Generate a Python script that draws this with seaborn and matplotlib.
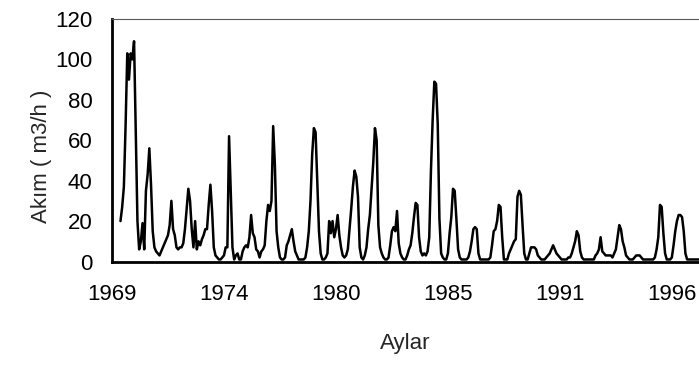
import numpy as np
import pandas as pd
import matplotlib
matplotlib.use("Agg")
import matplotlib.pyplot as plt
import seaborn as sns

# ============================
# Datos: caudal mensual (m3/h), desde junio 1969
# ============================
START_MONTH = 5  # meses desde enero 1969

akim_1969 = [20, 27, 37, 67, 103, 90, 103]
akim_1970 = [100, 109, 64, 20, 6, 10, 19, 6, 35, 43, 56, 38]
akim_1971 = [15, 7, 5, 4, 3, 5, 7, 9, 11, 13, 18, 30]
akim_1972 = [16, 13, 7, 6, 7, 7, 9, 16, 26, 36, 30, 16]
akim_1973 = [7, 20, 6, 10, 8, 11, 13, 16, 16, 28, 38, 25]
akim_1974 = [7, 3, 2, 1, 1, 2, 3, 7, 7, 62, 35, 7]
akim_1975 = [1, 3, 4, 1, 1, 5, 7, 8, 7, 12, 23, 14]
akim_1976 = [12, 6, 5, 2, 5, 6, 8, 20, 28, 25, 30, 67]
akim_1977 = [48, 15, 7, 2, 1, 1, 2, 8, 10, 13, 16, 10]
akim_1978 = [5, 3, 1, 1, 1, 1, 2, 7, 15, 30, 53, 66]
akim_1979 = [64, 40, 15, 4, 1, 1, 2, 4, 20, 14, 20, 12]
akim_1980 = [16, 23, 13, 7, 3, 2, 3, 6, 16, 26, 37, 45]
akim_1981 = [42, 32, 7, 2, 1, 3, 7, 16, 23, 36, 49, 66]
akim_1982 = [60, 18, 7, 4, 2, 1, 1, 2, 8, 15, 17, 15]
akim_1983 = [25, 9, 4, 2, 1, 1, 3, 6, 8, 14, 22, 29]
akim_1984 = [28, 12, 5, 3, 4, 3, 5, 12, 45, 70, 89, 88]
akim_1985 = [68, 21, 4, 2, 1, 1, 4, 14, 22, 36, 35, 21]
akim_1986 = [6, 2, 1, 1, 1, 1, 2, 5, 10, 16, 17, 16]
akim_1987 = [4, 1, 1, 1, 1, 1, 1, 2, 8, 15, 16, 20]
akim_1988 = [28, 27, 12, 1, 1, 1, 4, 6, 8, 10, 11, 32]
akim_1989 = [35, 33, 18, 4, 1, 1, 4, 7, 7, 7, 6, 3]
akim_1990 = [2, 1, 1, 1, 2, 3, 4, 6, 8, 6, 4, 3]
akim_1991 = [2, 1, 1, 1, 1, 2, 2, 4, 7, 10, 15, 13]
akim_1992 = [5, 2, 1, 1, 1, 1, 1, 1, 1, 3, 4, 6]
akim_1993 = [12, 5, 4, 3, 3, 3, 3, 2, 4, 6, 12, 18]
akim_1994 = [16, 10, 7, 3, 2, 1, 1, 1, 2, 3, 3, 3]
akim_1995 = [2, 1, 1, 1, 1, 1, 1, 1, 2, 6, 12, 28]
akim_1996 = [27, 14, 4, 1, 1, 1, 2, 8, 15, 20, 23, 23]
akim_1997 = [22, 15, 4, 1, 1, 1, 1, 1, 1, 1, 1, 1]

tick_months = [0, 66, 132, 198, 264, 330]
tick_labels = ["1969", "1974", "1980", "1985", "1991", "1996"]

akim = (akim_1969 + akim_1970 + akim_1971 + akim_1972 + akim_1973 + akim_1974
        + akim_1975 + akim_1976 + akim_1977 + akim_1978 + akim_1979 + akim_1980
        + akim_1981 + akim_1982 + akim_1983 + akim_1984 + akim_1985 + akim_1986
        + akim_1987 + akim_1988 + akim_1989 + akim_1990 + akim_1991 + akim_1992
        + akim_1993 + akim_1994 + akim_1995 + akim_1996 + akim_1997)

df = pd.DataFrame({"ay": np.arange(START_MONTH, START_MONTH + len(akim)),
                   "akim": akim})

# ============================
# Figura
# ============================
sns.set_style("white")
plt.rcParams["font.family"] = ["Liberation Sans", "DejaVu Sans"]

fig = plt.figure(figsize=(6.99, 3.68), dpi=100)
ax = fig.add_axes([112 / 699, 106.5 / 368, 587 / 699, 242.5 / 368])

sns.lineplot(data=df, x="ay", y="akim", color="black", linewidth=1.8, ax=ax)

ax.set_xlim(0, 346)
ax.set_ylim(0, 120)
ax.set_yticks(range(0, 121, 20))
ax.set_xticks(tick_months)
ax.set_xticklabels(tick_labels)

ax.tick_params(axis="both", labelsize=16, colors="black")
ax.tick_params(axis="x", direction="out", length=7, width=1.5, pad=9)
ax.tick_params(axis="y", direction="out", length=3, width=1.5, pad=11)

for side in ["left", "bottom"]:
    ax.spines[side].set_linewidth(2)
    ax.spines[side].set_color("black")
ax.spines["top"].set_linewidth(0.8)
ax.spines["top"].set_color("0.35")
ax.spines["right"].set_visible(False)

ax.set_xlabel("")
ax.set_ylabel("")
fig.text(41 / 699, 1 - 156 / 368, "Akım ( m3/h )", rotation=90,
         ha="center", va="center", fontsize=16)
fig.text(405 / 699, 1 - 344 / 368, "Aylar", ha="center", va="center",
         fontsize=16)

plt.savefig("out.png", dpi=100, facecolor="white")
